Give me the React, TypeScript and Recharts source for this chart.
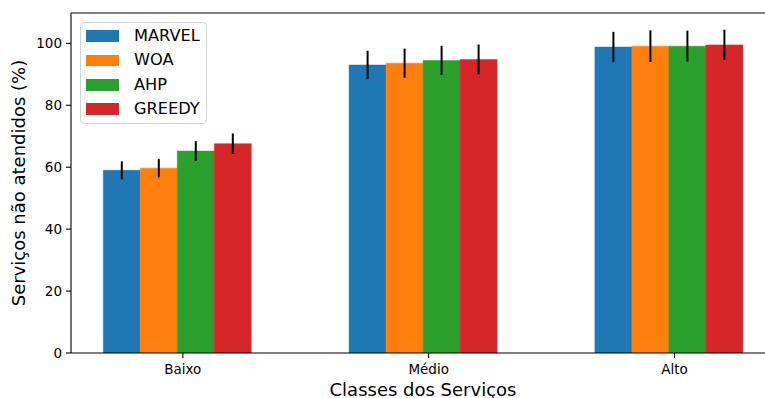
import React from 'react';
import { BarChart, Bar, XAxis, YAxis, ErrorBar, ReferenceLine, Legend } from 'recharts';

// Service classes and their positions on the numeric x axis
const classes = ['Baixo', 'Médio', 'Alto'];
const classPositions = [0, 1, 2];
const classTickPositions = [0.023, 1.023, 2.023];
const xDomain: [number, number] = [-0.432, 2.432];

// Percentage of services not served, per algorithm, with standard deviation
const marvelValues = [59.0, 93.0, 98.8];
const marvelErrors = [2.9, 4.6, 4.9];
const woaValues = [59.7, 93.6, 99.1];
const woaErrors = [3.0, 4.7, 5.1];
const ahpValues = [65.2, 94.5, 99.1];
const ahpErrors = [3.2, 4.7, 5.0];
const greedyValues = [67.6, 94.8, 99.5];
const greedyErrors = [3.3, 4.8, 4.9];

const yTicks = [0, 20, 40, 60, 80, 100];
const yMax = 109.8;

const FONT = '"DejaVu Sans", sans-serif';

const series = [
  { name: 'MARVEL', values: marvelValues, errors: marvelErrors, color: '#1f77b4' },
  { name: 'WOA', values: woaValues, errors: woaErrors, color: '#ff7f0e' },
  { name: 'AHP', values: ahpValues, errors: ahpErrors, color: '#2ca02c' },
  { name: 'GREEDY', values: greedyValues, errors: greedyErrors, color: '#d62728' },
];

const data = classes.map((cls, i) => {
  const row: Record<string, number | string> = { cls, pos: classPositions[i] };
  series.forEach((s) => {
    row[s.name] = s.values[i];
    row[`${s.name}_err`] = s.errors[i];
  });
  return row;
});

const YTitle = (props: any) => {
  const vb = props.viewBox || { x: 0, y: 13, width: 71, height: 340 };
  const cy = vb.y + vb.height / 2;
  const x = 25;
  return (
    <text
      x={x}
      y={cy}
      transform={`rotate(-90, ${x}, ${cy})`}
      textAnchor="middle"
      fontFamily={FONT}
      fontSize={18}
      fill="#000"
    >
      Serviços não atendidos (%)
    </text>
  );
};

const XTitle = () => (
  <text x={423} y={395.5} textAnchor="middle" fontFamily={FONT} fontSize={18} fill="#000">
    Classes dos Serviços
  </text>
);

const LegendBox = () => (
  <div
    style={{
      boxSizing: 'border-box',
      width: 127.3,
      border: '1px solid #d3d3d3',
      borderRadius: 4,
      background: 'rgba(255,255,255,0.8)',
      padding: '1px 6px 1.8px 5px',
      fontFamily: FONT,
      fontSize: 16.2,
      color: '#000',
    }}
  >
    {series.map((s) => (
      <div key={s.name} style={{ display: 'flex', alignItems: 'center', height: 24.3 }}>
        <div style={{ width: 33, height: 11.7, background: s.color, marginRight: 15, flex: 'none' }} />
        <span style={{ lineHeight: '16px', whiteSpace: 'nowrap' }}>{s.name}</span>
      </div>
    ))}
  </div>
);

export default function App() {
  return (
    <div style={{ position: 'absolute', left: 0, top: 0, width: 765, height: 398, overflow: 'hidden', background: '#fff' }}>
      <BarChart
        width={776}
        height={398}
        data={data}
        margin={{ top: 13, right: 1, left: 0, bottom: 0 }}
        barGap={0}
        barCategoryGap={0}
      >
        <XAxis
          dataKey="pos"
          type="number"
          domain={xDomain}
          allowDataOverflow
          ticks={classTickPositions}
          tickFormatter={(v: number) => classes[Math.round(v)]}
          height={45}
          tickSize={5}
          tickMargin={6.4}
          stroke="#000"
          strokeWidth={1.1}
          tick={{ fill: '#000', fontSize: 13.5, fontFamily: FONT }}
          label={<XTitle />}
        />
        <YAxis
          type="number"
          domain={[0, yMax]}
          allowDataOverflow
          ticks={yTicks}
          width={71}
          tickSize={5}
          tickMargin={4}
          stroke="#000"
          strokeWidth={1.1}
          tick={{ fill: '#000', fontSize: 13.5, fontFamily: FONT }}
          label={<YTitle />}
        />
        <ReferenceLine y={yMax} stroke="#000" strokeWidth={1.1} />
        {series.map((s) => (
          <Bar
            key={s.name}
            dataKey={s.name}
            name={s.name}
            fill={s.color}
            stroke={s.color}
            strokeWidth={0.5}
            barSize={37}
            isAnimationActive={false}
          >
            <ErrorBar dataKey={`${s.name}_err`} width={0} stroke="#000" strokeWidth={2} direction="y" />
          </Bar>
        ))}
        <Legend
          content={<LegendBox />}
          layout="vertical"
          verticalAlign="middle"
          align="center"
          wrapperStyle={{ left: 80, top: 22, width: 'auto' }}
        />
      </BarChart>
    </div>
  );
}
